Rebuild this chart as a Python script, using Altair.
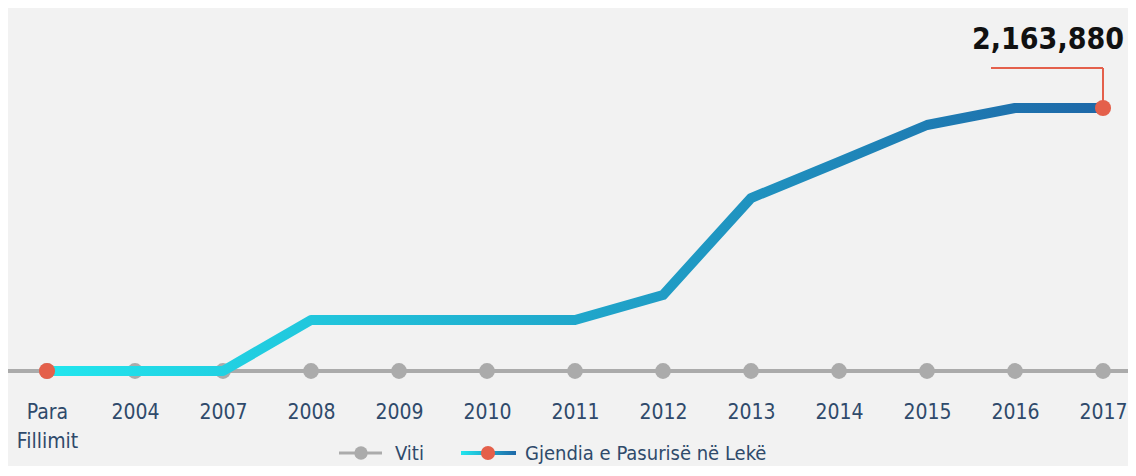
import altair as alt
import pandas as pd

categories = ["Para Fillimit", "2004", "2007", "2008", "2009", "2010", "2011",
              "2012", "2013", "2014", "2015", "2016", "2017"]
values = [0, 0, 0, 420000, 420000, 420000, 420000, 625000, 1423000,
          1720000, 2024000, 2163880, 2163880]
highlight = ["Para Fillimit", "2017"]
label_text = "2,163,880"

FONT = "DejaVu Sans Condensed, sans-serif"
NAVY = "#2f4a6b"
RED = "#e4604b"
GRAY = "#ababab"

df = pd.DataFrame({"cat": categories, "val": values})
df["zero"] = 0
hi = df[df["cat"].isin(highlight)]
last = df[df["cat"] == categories[-1]].copy()
last["label"] = label_text

xs = alt.X("cat:N", sort=categories,
           scale=alt.Scale(type="point", range=[39, 1095], padding=0),
           axis=alt.Axis(title=None, domain=False, ticks=False, grid=False,
                         labelFont=FONT, labelFontSize=21, labelColor=NAVY,
                         labelPadding=30, labelAngle=0, labelLineHeight=29,
                         labelExpr="split(datum.label, ' ')"))
ysc = alt.Scale(domain=[0, max(values)], range=[363, 100])
ys = alt.Y("val:Q", scale=ysc, axis=None)

base = alt.Chart(df)

axis_line = base.mark_rule(color=GRAY, strokeWidth=4).encode(
    y=alt.Y("zero:Q", scale=ysc, axis=None), x=alt.value(0), x2=alt.value(1120))

gray_pts = base.mark_circle(color=GRAY, opacity=1, size=250).encode(
    x=xs, y=alt.Y("zero:Q", scale=ysc, axis=None))

grad = alt.Gradient(gradient="linear", x1=0, x2=1, y1=0, y2=0,
                    stops=[alt.GradientStop(color="#22e6ee", offset=0),
                           alt.GradientStop(color="#1e68a8", offset=1)])

line = base.mark_line(stroke=grad, strokeWidth=10, strokeJoin="round").encode(
    x=xs, y=ys)

red_pts = alt.Chart(hi).mark_circle(color=RED, opacity=1, size=260).encode(
    x=xs, y=ys)

leader_v = alt.Chart(last).mark_rule(color=RED, strokeWidth=2).encode(
    x=xs, y=ys, y2=alt.value(60))
leader_h = alt.Chart(last).mark_rule(color=RED, strokeWidth=2).encode(
    x=xs, x2=alt.value(983), y=alt.value(60))

ann = alt.Chart(last).mark_text(font=FONT, fontSize=30, fontWeight="bold",
                                color="#111111", align="right",
                                baseline="alphabetic", dx=21, dy=-59).encode(
    x=xs, y=ys, text="label:N")

# legend
leg_df = pd.DataFrame({"a": [0]})
lb = alt.Chart(leg_df)
LY = 445
leg1_line = lb.mark_rule(color=GRAY, strokeWidth=3).encode(
    x=alt.value(331), x2=alt.value(374), y=alt.value(LY))
leg1_pt = lb.mark_circle(color=GRAY, opacity=1, size=180).encode(
    x=alt.value(353), y=alt.value(LY))
leg1_txt = lb.mark_text(font=FONT, fontSize=20, color=NAVY, align="left",
                        baseline="middle").encode(
    x=alt.value(387), y=alt.value(LY + 1), text=alt.value("Viti"))
leg2_line = lb.mark_rect(fill=grad).encode(
    x=alt.value(453), x2=alt.value(508), y=alt.value(LY - 2), y2=alt.value(LY + 2))
leg2_pt = lb.mark_circle(color=RED, opacity=1, size=200).encode(
    x=alt.value(480), y=alt.value(LY))
leg2_txt = lb.mark_text(font=FONT, fontSize=20, color=NAVY, align="left",
                        baseline="middle").encode(
    x=alt.value(517), y=alt.value(LY + 1), text=alt.value("Gjendia e Pasurisë në Lekë"))

chart = alt.layer(axis_line, gray_pts, line, red_pts, leader_v, leader_h, ann,
                  leg1_line, leg1_pt, leg1_txt, leg2_line, leg2_pt, leg2_txt
                  ).properties(width=1120, height=363,
                               padding={"left": 0, "top": 0, "right": 0, "bottom": 95},
                               autosize=alt.AutoSizeParams(type="none"),
                               background="#f2f2f2"
                  ).configure_view(stroke=None)

chart.save("out.html", embed_options={"renderer": "svg", "actions": False})
